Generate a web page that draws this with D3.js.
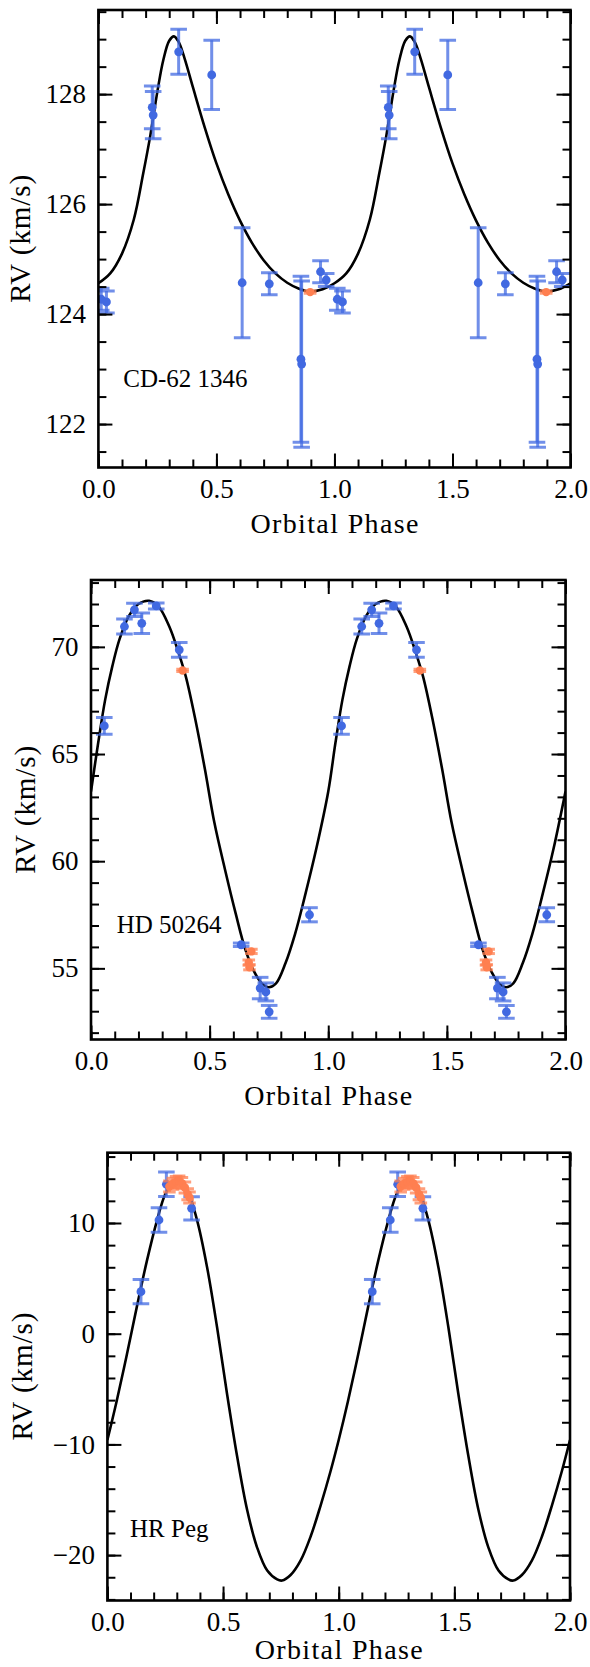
<!DOCTYPE html>
<html><head><meta charset="utf-8">
<script src="https://cdn.jsdelivr.net/npm/d3@7"></script>
<style>
html,body{margin:0;padding:0;background:#fff;}
svg{display:block;}
svg text{font-family:"Liberation Serif","DejaVu Serif",serif !important;fill:#000;}
</style></head><body>
<svg id="chart" width="590" height="1667"></svg>
<script>
// ---------------- data ----------------
const xTickValues = [0, 0.5, 1, 1.5, 2];
const xTickLabels = ["0.0", "0.5", "1.0", "1.5", "2.0"];
const xLabel = "Orbital Phase";
const yLabel = "RV (km/s)";

// CD-62 1346
const cdName = "CD-62 1346";
const cdBluePhase = [0.012, 0.034, 0.228, 0.232, 0.340, 0.480, 0.609, 0.724, 0.858, 0.861, 0.941, 0.965];
const cdBlueRV    = [124.27, 124.22, 127.76, 127.62, 128.77, 128.35, 124.57, 124.55, 123.18, 123.09, 124.77, 124.62];
const cdBlueErr   = [0.2, 0.2, 0.39, 0.43, 0.41, 0.63, 1.0, 0.2, 1.51, 1.51, 0.2, 0.12];
const cdOrangePhase = [0.897];
const cdOrangeRV    = [124.40];
const cdOrangeErr   = [0.02];
const cdModelPhase = [0, 0.05, 0.10, 0.15, 0.19, 0.22, 0.25, 0.275, 0.30, 0.32, 0.34, 0.365, 0.40, 0.45, 0.50, 0.55, 0.60, 0.65, 0.70, 0.75, 0.80, 0.85, 0.895, 0.95, 1.0];
const cdModelRV    = [124.56, 124.74, 125.10, 125.72, 126.56, 127.25, 128.05, 128.62, 128.97, 129.05, 128.95, 128.65, 128.13, 127.40, 126.74, 126.18, 125.70, 125.30, 124.98, 124.74, 124.57, 124.46, 124.41, 124.45, 124.56];
const cdYTickValues = [122, 124, 126, 128];
const cdYTickLabels = ["122", "124", "126", "128"];

// HD 50264
const hdName = "HD 50264";
const hdBluePhase = [0.056, 0.141, 0.183, 0.214, 0.275, 0.372, 0.633, 0.713, 0.737, 0.751, 0.921];
const hdBlueRV    = [66.31, 70.95, 71.73, 71.10, 71.91, 69.86, 56.10, 54.08, 53.90, 52.97, 57.50];
const hdBlueErr   = [0.39, 0.35, 0.31, 0.48, 0.14, 0.34, 0.08, 0.50, 0.42, 0.30, 0.33];
const hdOrangePhase = [0.386, 0.676, 0.665, 0.668];
const hdOrangeRV    = [68.90, 55.79, 55.27, 55.05];
const hdOrangeErr   = [0.05, 0.10, 0.12, 0.12];
const hdModelPhase = [0, 0.03, 0.06, 0.09, 0.12, 0.16, 0.20, 0.245, 0.285, 0.33, 0.37, 0.40, 0.44, 0.48, 0.52, 0.565, 0.61, 0.65, 0.69, 0.72, 0.75, 0.78, 0.82, 0.86, 0.90, 0.95, 1.0];
const hdModelRV    = [63.25, 65.5, 67.55, 69.1, 70.35, 71.45, 72.0, 72.15, 71.88, 70.95, 69.7, 68.6, 66.6, 64.3, 61.8, 59.6, 57.55, 55.9, 54.8, 54.3, 54.12, 54.3, 55.25, 56.6, 58.3, 60.6, 63.25];
const hdYTickValues = [55, 60, 65, 70];
const hdYTickLabels = ["55", "60", "65", "70"];

// HR Peg
const hrName = "HR Peg";
const hrBluePhase = [0.145, 0.223, 0.255, 0.364];
const hrBlueRV    = [3.80, 10.27, 13.50, 11.33];
const hrBlueErr   = [1.1, 1.1, 1.1, 1.05];
const hrOrangePhase = [0.268, 0.283, 0.297, 0.310, 0.322, 0.335, 0.347, 0.355];
const hrOrangeRV    = [13.30, 13.55, 13.70, 13.75, 13.60, 13.20, 12.60, 12.30];
const hrOrangeErr   = [0.5, 0.5, 0.5, 0.5, 0.5, 0.5, 0.5, 0.5];
const hrModelPhase = [0, 0.04, 0.084, 0.127, 0.171, 0.214, 0.25, 0.279, 0.308, 0.344, 0.387, 0.431, 0.474, 0.517, 0.561, 0.604, 0.647, 0.691, 0.734, 0.755, 0.792, 0.835, 0.879, 0.922, 0.965, 1.0];
const hrModelRV    = [-9.6, -6.1, -1.9, 2.4, 6.6, 10.2, 12.6, 13.5, 13.7, 13.0, 10.3, 6.0, 0.6, -5.4, -11.1, -15.9, -19.3, -21.4, -22.2, -22.3, -21.8, -20.5, -18.3, -15.5, -12.4, -9.6];
const hrYTickValues = [-20, -10, 0, 10];
const hrYTickLabels = ["\u221220", "\u221210", "0", "10"];

// ---------------- layout / styling ----------------
const BLUE = "#4169E1";
const ORANGE = "#FF7F50";
const SERIF = '"Liberation Serif","DejaVu Serif",serif';

const panels = [
  { name: cdName, bp: cdBluePhase, bv: cdBlueRV, be: cdBlueErr, op: cdOrangePhase, ov: cdOrangeRV, oe: cdOrangeErr,
    mp: cdModelPhase, mv: cdModelRV, yt: cdYTickValues, yl: cdYTickLabels,
    left: 98.4, right: 570.5, top: 10, bottom: 467.5, yDomain: [121.21, 129.53], yMinor: 0.5,
    labelX: 30, nameX: 123.3, nameY: 387, xLabelY: 533 },
  { name: hdName, bp: hdBluePhase, bv: hdBlueRV, be: hdBlueErr, op: hdOrangePhase, ov: hdOrangeRV, oe: hdOrangeErr,
    mp: hdModelPhase, mv: hdModelRV, yt: hdYTickValues, yl: hdYTickLabels,
    left: 91, right: 565.5, top: 580, bottom: 1039.5, yDomain: [51.68, 73.12], yMinor: 1,
    labelX: 35, nameX: 116.7, nameY: 933, xLabelY: 1104.5 },
  { name: hrName, bp: hrBluePhase, bv: hrBlueRV, be: hrBlueErr, op: hrOrangePhase, ov: hrOrangeRV, oe: hrOrangeErr,
    mp: hrModelPhase, mv: hrModelRV, yt: hrYTickValues, yl: hrYTickLabels,
    left: 107.4, right: 570, top: 1152.7, bottom: 1600.5, yDomain: [-24.1, 16.35], yMinor: 2,
    labelX: 31.5, nameX: 130, nameY: 1536.5, xLabelY: 1659 }
];

const svg = d3.select("#chart");
svg.append("rect").attr("width", 590).attr("height", 1667).attr("fill", "#fff");

function minorTicks(lo, hi, step) {
  return d3.range(Math.ceil(lo / step - 1e-9), Math.floor(hi / step + 1e-9) + 1).map(k => +(k * step).toFixed(6));
}

function styleAxis(g, keepText) {
  g.attr("font-family", SERIF);
  g.select(".domain").remove();
  g.selectAll(".tick line").attr("stroke", "#000").attr("stroke-width", 2);
  if (!keepText) g.selectAll(".tick text").remove();
  g.selectAll(".tick text").attr("font-size", 27).style("font-family", SERIF).attr("fill", "#000");
}

panels.forEach((cfg, idx) => {
  const g = svg.append("g");
  const x = d3.scaleLinear().domain([0, 2]).range([cfg.left, cfg.right]);
  const y = d3.scaleLinear().domain(cfg.yDomain).range([cfg.bottom, cfg.top]);
  const clipId = "clip" + idx;
  g.append("clipPath").attr("id", clipId).append("rect")
    .attr("x", cfg.left).attr("y", cfg.top)
    .attr("width", cfg.right - cfg.left).attr("height", cfg.bottom - cfg.top);

  const plot = g.append("g").attr("clip-path", `url(#${clipId})`);

  // model curve over two cycles
  const pts = [];
  [0, 1].forEach(c => cfg.mp.forEach((p, i) => {
    if (c === 1 && p === 0) return;
    pts.push([p + c, cfg.mv[i]]);
  }));
  const line = d3.line().x(d => x(d[0])).y(d => y(d[1])).curve(d3.curveCatmullRom.alpha(0.5));
  plot.append("path").attr("d", line(pts)).attr("fill", "none").attr("stroke", "#000").attr("stroke-width", 2.6);

  function drawSeries(phase, rv, err, color, r, cap) {
    const rows = [];
    phase.forEach((p, i) => [0, 1].forEach(c => {
      const ph = p + c;
      if (ph >= 0 && ph <= 2) rows.push({ ph, v: rv[i], e: err[i] });
    }));
    const bars = plot.append("g");
    rows.forEach(d => {
      const cx = x(d.ph), y1 = y(d.v - d.e), y2 = y(d.v + d.e);
      bars.append("line").attr("x1", cx).attr("x2", cx).attr("y1", y1).attr("y2", y2)
        .attr("stroke", color).attr("stroke-width", 3).attr("stroke-opacity", 0.75);
      [y1, y2].forEach(yy => bars.append("line").attr("x1", cx - cap).attr("x2", cx + cap)
        .attr("y1", yy).attr("y2", yy).attr("stroke", color).attr("stroke-width", 3).attr("stroke-opacity", 0.75));
    });
    plot.append("g").selectAll("circle").data(rows).join("circle")
      .attr("cx", d => x(d.ph)).attr("cy", d => y(d.v)).attr("r", r).attr("fill", color);
  }
  drawSeries(cfg.bp, cfg.bv, cfg.be, BLUE, 4.4, 8.3);
  drawSeries(cfg.op, cfg.ov, cfg.oe, ORANGE, 4.2, 6.3);

  // axes
  const xMinor = minorTicks(0, 2, 0.1);
  const yMinor = minorTicks(cfg.yDomain[0], cfg.yDomain[1], cfg.yMinor);
  const MAJ = 14, MIN = 8;

  g.append("g").attr("transform", `translate(0,${cfg.bottom})`)
    .call(d3.axisBottom(x).tickValues(xMinor).tickSize(-MIN).tickFormat("")).call(s => styleAxis(s, false));
  g.append("g").attr("transform", `translate(0,${cfg.bottom})`)
    .call(d3.axisBottom(x).tickValues(xTickValues).tickFormat((d, i) => xTickLabels[i]).tickSize(-MAJ).tickPadding(11.5))
    .call(s => styleAxis(s, true));
  g.append("g").attr("transform", `translate(0,${cfg.top})`)
    .call(d3.axisTop(x).tickValues(xMinor).tickSize(-MIN).tickFormat("")).call(s => styleAxis(s, false));
  g.append("g").attr("transform", `translate(0,${cfg.top})`)
    .call(d3.axisTop(x).tickValues(xTickValues).tickSize(-MAJ).tickFormat("")).call(s => styleAxis(s, false));

  g.append("g").attr("transform", `translate(${cfg.left},0)`)
    .call(d3.axisLeft(y).tickValues(yMinor).tickSize(-MIN).tickFormat("")).call(s => styleAxis(s, false));
  g.append("g").attr("transform", `translate(${cfg.left},0)`)
    .call(d3.axisLeft(y).tickValues(cfg.yt).tickFormat((d, i) => cfg.yl[i]).tickSize(-MAJ).tickPadding(12.4))
    .call(s => styleAxis(s, true));
  g.append("g").attr("transform", `translate(${cfg.right},0)`)
    .call(d3.axisRight(y).tickValues(yMinor).tickSize(-MIN).tickFormat("")).call(s => styleAxis(s, false));
  g.append("g").attr("transform", `translate(${cfg.right},0)`)
    .call(d3.axisRight(y).tickValues(cfg.yt).tickSize(-MAJ).tickFormat("")).call(s => styleAxis(s, false));

  // frame
  g.append("rect").attr("x", cfg.left).attr("y", cfg.top)
    .attr("width", cfg.right - cfg.left).attr("height", cfg.bottom - cfg.top)
    .attr("fill", "none").attr("stroke", "#000").attr("stroke-width", 2.6);

  // star name
  g.append("text").attr("x", cfg.nameX).attr("y", cfg.nameY).attr("font-size", 25)
    .style("font-family", SERIF).text(cfg.name);

  // axis labels
  const cx = (cfg.left + cfg.right) / 2, cy = (cfg.top + cfg.bottom) / 2;
  g.append("text").attr("x", cx).attr("y", cfg.xLabelY).attr("text-anchor", "middle")
    .attr("font-size", 28).style("font-family", SERIF)
    .attr("textLength", 168).attr("lengthAdjust", "spacing").text(xLabel);
  g.append("text").attr("transform", `translate(${cfg.labelX},${cy}) rotate(-90)`).attr("text-anchor", "middle")
    .attr("font-size", 29).style("font-family", SERIF)
    .attr("textLength", 128).attr("lengthAdjust", "spacing").text(yLabel);
});
</script>
</body></html>
